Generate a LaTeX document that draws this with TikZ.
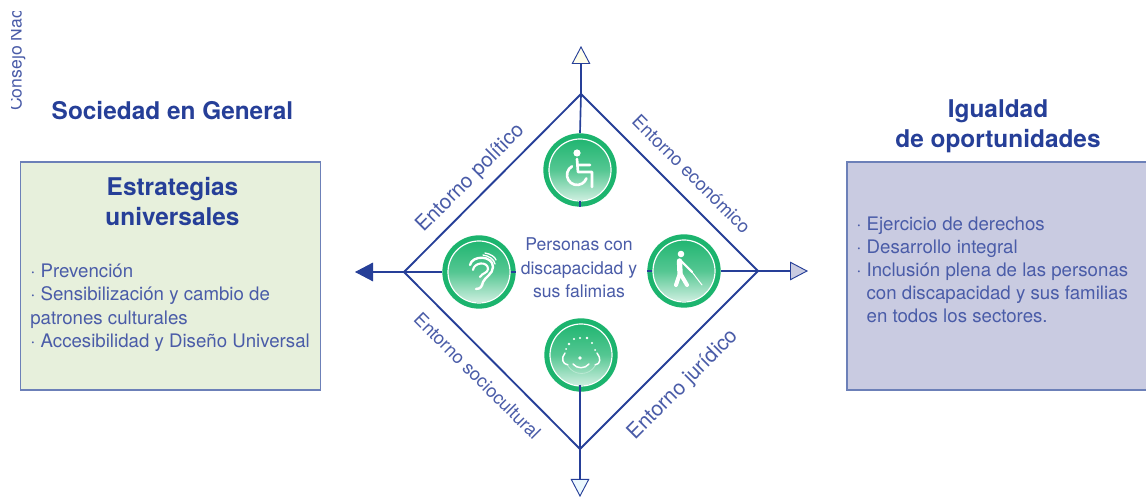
\documentclass[tikz,border=0pt]{standalone}
\usepackage{fontspec}
\setmainfont{TeX Gyre Heros}
\usetikzlibrary{arrows.meta,shadings}
\definecolor{navy}{HTML}{263F98}
\definecolor{bodyblue}{HTML}{4A5CA8}
\definecolor{ringgreen}{HTML}{1CB46E}
\definecolor{boxline}{HTML}{6C80B8}
\definecolor{greenfill}{HTML}{E7F0DC}
\definecolor{lilac}{HTML}{C9CBE1}
\pgfdeclareverticalshading{iconfade}{100bp}{color(0bp)=(white); color(22bp)=(white!85!ringgreen); color(50bp)=(ringgreen!75!white); color(78bp)=(ringgreen); color(100bp)=(ringgreen)}
\tikzset{
  x=0.75pt,y=-0.75pt,
  edgeline/.style={navy,line width=1.4pt},
  axisline/.style={navy,line width=1.25pt},
  heading/.style={navy,font=\bfseries\fontsize{18.3}{22}\selectfont,align=center,inner sep=0pt},
  bodytext/.style={bodyblue,font=\fontsize{14}{17.3}\selectfont,align=left,inner sep=0pt,anchor=north west},
  slanted/.style={bodyblue,font=\fontsize{#1}{16}\selectfont,inner sep=0pt},
  panel/.style={draw=boxline,line width=1.1pt},
  disc/.style={circle,minimum size=55pt,inner sep=0pt,fill=ringgreen},
  discin/.style={white,line width=0.9pt},
  glyph/.style={white,line width=2pt,line cap=round,line join=round},
  thin glyph/.style={white,line width=0.75pt,line cap=round},
  tipopen/.style={-{Triangle[length=13.5pt,width=14pt,fill=#1,line width=0.7pt]}},
}
\newcommand{\badge}[3]{%
  \node[disc] (#1) at (#2,#3) {};
  \shade[shading=iconfade] (#2,#3) circle (30.5);
  \draw[discin] (#2,#3) circle (31);
}
\begin{document}
\begin{tikzpicture}
\useasboundingbox (0,0) rectangle (1146,498);
\fill[white] (0,0) rectangle (1146,498);

\coordinate (T) at (581,94);
\coordinate (L) at (404,272);
\coordinate (R) at (758,271);
\coordinate (B) at (580,449);
\coordinate (Tend) at (581,46);
\coordinate (Lend) at (355,272);
\coordinate (Rend) at (808,271);
\coordinate (Bend) at (580,497);
\coordinate (botspoke) at (580,385);

% clipped margin text
\begin{scope}
\clip (11,12) rectangle (40,120);
\node[bodyblue,rotate=90,anchor=base west,inner sep=0pt,font=\fontsize{13.2}{15}\selectfont] (margin) at (21.5,111) {Consejo Nac};
\end{scope}

% headings
\node[heading] (h1) at (172.5,110.5) {Sociedad en General};
\node[heading] (h2) at (998,126) {Igualdad\\[0.8pt]de oportunidades};

% panels
\node[panel,fill=greenfill,minimum width=225pt,minimum height=171pt,inner sep=0pt] (p1) at (170.5,276) {};
\node[panel,fill=lilac,minimum width=225pt,minimum height=171pt,inner sep=0pt] (p2) at (997,276) {};

\node[heading] (st) at (172.5,201.5) {Estrategias\\universales};
\node[bodytext] (b1) at (30,264) {· Prevención\\· Sensibilización y cambio de\\patrones culturales\\· Accesibilidad y Diseño Universal};
\node[bodytext] (b2) at (856,216.5) {· Ejercicio de derechos\\· Desarrollo integral\\· Inclusión plena de las personas\\\phantom{· }con discapacidad y sus familias\\\phantom{· }en todos los sectores.};

% diamond
\draw[edgeline,line join=miter] (T) -- (R) -- (B) -- (L) -- cycle;

% axes
\draw[axisline,tipopen=yellow!8!white] (T) -- (Tend);
\draw[axisline,tipopen=lilac] (R) -- (Rend);
\draw[axisline,tipopen=navy] (L) -- (Lend);
\draw[axisline,tipopen=cyan!8!white] (B) -- (Bend);

% badges
\badge{top}{580}{170}
\badge{left}{479}{272}
\badge{right}{684}{271}
\badge{bot}{581}{355}

% inner spokes
\draw[axisline] (T) -- (top.north);
\draw[axisline] (L) -- (left.west);
\draw[axisline] (right.east) -- (R);
\draw[axisline] (botspoke) -- (B);
\draw[axisline] (top.south) -- ++(0,-6);
\draw[axisline] (left.east) -- ++(-5,0);
\draw[axisline] (right.west) -- ++(5,0);

% wheelchair
\begin{scope}[shift={(580,170)}]
\fill[white] (-3,-17) circle (3.6);
\draw[glyph] (-3,-11) -- (-2,2) -- (12,2) -- (12,17) (-2.5,-5) -- (10,-5);
\draw[glyph] (-8,-3.66) arc[start angle=-120,end angle=-340,radius=10];
\end{scope}

% ear
\begin{scope}[shift={(479,272)}]
\draw[glyph,line width=1.8pt] (-9,-7) .. controls (-7,-17) and (14,-17) .. (14,-5) .. controls (14,2) and (6,5) .. (4,10) .. controls (3,14) and (2,17) .. (-3,17);
\draw[glyph,line width=1.6pt] (-6,-2) .. controls (-5,-10) and (9,-11) .. (9,-3) .. controls (9,1) and (3,1) .. (1,5);
\draw[thin glyph,line width=1pt] (4,-17) .. controls (10,-16) and (15,-13) .. (16,-8);
\draw[thin glyph,line width=1pt] (6,-19) .. controls (12,-18) and (16,-15) .. (17,-12);
\end{scope}

% walking person with cane
\begin{scope}[shift={(684,271)}]
\fill[white] (-3,-17) circle (3.3);
\draw[white,line width=4pt,line cap=round,line join=round] (-4.5,-10) -- (-4,2);
\draw[white,line width=3pt,line cap=round,line join=round] (-8,14) -- (-4,2) -- (3,14);
\draw[white,line width=1.6pt,line cap=round] (-3,-10) -- (8,1);
\draw[thin glyph] (8,1) -- (18,14);
\end{scope}

% baby face
\begin{scope}[shift={(581,355)}]
\foreach \x/\y/\r in {-15/-6/1,-12/-11/1.3,-7/-16/1.2,-1/-17/1.1,6/-17/1.3,11/-12/1.2,14/-5/1}{
  \fill[white] (\x,\y) circle (\r);
}
\fill[white] (-1,3) circle (1.8);
\draw[thin glyph,line width=1.1pt] (-16,-2) .. controls (-20,3) and (-19,9) .. (-13,10);
\draw[thin glyph,line width=1.1pt] (16,-2) .. controls (20,3) and (20,9) .. (14,10);
\draw[thin glyph,line width=1.1pt] (-8,9) .. controls (-4,14) and (4,14) .. (8,9);
\draw[white!70!ringgreen,line width=0.6pt] (-13,11) .. controls (-7,21) and (8,21) .. (14,11);
\end{scope}

% centre text
\node[bodytext,anchor=center,align=center,font=\fontsize{13.2}{17.6}\selectfont] (c) at (579,268) {Personas con\\discapacidad y\\sus falimias};

% slanted labels
\node[slanted=15.5,rotate=45] (e1) at (470.5,178.5) {Entorno político};
\node[slanted=13.8,rotate=-45] (e2) at (691.5,174) {Entorno económico};
\node[slanted=13.7,rotate=-45] (e3) at (477.5,376) {Entorno sociocultural};
\node[slanted=15.7,rotate=45] (e4) at (683.5,385) {Entorno jurídico};
\end{tikzpicture}
\end{document}
